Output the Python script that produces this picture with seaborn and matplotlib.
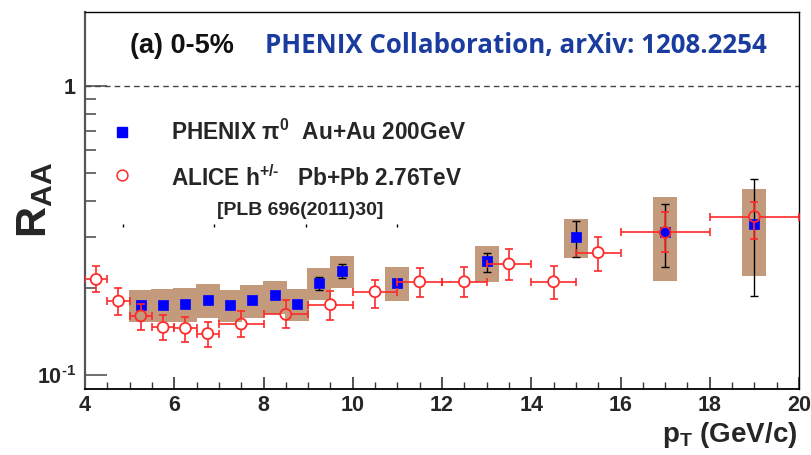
import numpy as np
import matplotlib
matplotlib.use("Agg")
import matplotlib.pyplot as plt
from matplotlib.ticker import MultipleLocator, FixedLocator, FixedFormatter, NullFormatter
import seaborn as sns

# ---------------- data ----------------
# PHENIX pi0, Au+Au 200 GeV, 0-5%
phx_pt = [5.25, 5.75, 6.25, 6.75, 7.25, 7.75, 8.25, 8.75, 9.25, 9.75, 11.0, 13.0, 15.0, 17.0, 19.0]
phx_raa = [0.175, 0.175, 0.176, 0.182, 0.175, 0.181, 0.189, 0.176, 0.208, 0.228, 0.208, 0.247, 0.299, 0.313, 0.333]
# statistical error bars (lower / upper edge)
phx_stat_lo = [0.171, 0.171, 0.172, 0.178, 0.171, 0.177, 0.185, 0.172, 0.197, 0.216, 0.203, 0.227, 0.256, 0.237, 0.188]
phx_stat_hi = [0.179, 0.179, 0.180, 0.186, 0.179, 0.185, 0.193, 0.180, 0.218, 0.242, 0.213, 0.264, 0.341, 0.391, 0.476]
# systematic uncertainty boxes (lower / upper edge)
phx_sys_lo = [0.152, 0.152, 0.152, 0.157, 0.153, 0.157, 0.163, 0.154, 0.182, 0.200, 0.180, 0.209, 0.253, 0.212, 0.219]
phx_sys_hi = [0.197, 0.198, 0.200, 0.206, 0.197, 0.204, 0.212, 0.198, 0.234, 0.257, 0.236, 0.280, 0.346, 0.414, 0.440]
sys_half_width = 0.27

# ALICE charged hadrons, Pb+Pb 2.76 TeV, 0-5%
alice_pt = [4.25, 4.75, 5.25, 5.75, 6.25, 6.75, 7.5, 8.5, 9.5, 10.5, 11.5, 12.5, 13.5, 14.5, 15.5, 17.0, 19.0]
alice_pt_err = [0.25, 0.25, 0.25, 0.25, 0.25, 0.25, 0.5, 0.5, 0.5, 0.5, 0.5, 0.5, 0.5, 0.5, 0.5, 1.0, 1.0]
alice_raa = [0.214, 0.180, 0.160, 0.146, 0.145, 0.139, 0.150, 0.162, 0.175, 0.194, 0.210, 0.210, 0.242, 0.210, 0.265, 0.311, 0.353]
alice_lo = [0.193, 0.161, 0.143, 0.132, 0.130, 0.125, 0.135, 0.145, 0.155, 0.170, 0.186, 0.186, 0.213, 0.183, 0.228, 0.267, 0.296]
alice_hi = [0.238, 0.200, 0.176, 0.161, 0.159, 0.153, 0.166, 0.182, 0.195, 0.213, 0.234, 0.237, 0.273, 0.239, 0.300, 0.367, 0.396]

# stray ticks of the overlaid frame
overlay_ticks = [4.85, 6.9, 8.95, 11.0]

x_major = [4, 6, 8, 10, 12, 14, 16, 18, 20]
y_minor = [0.2, 0.3, 0.4, 0.5, 0.6, 0.7, 0.8, 0.9]

BLUE = "#0000ff"
RED = "#ff2a2a"
BOX = "#c39a7c"
TITLE_BLUE = "#1a3c9e"

# ---------------- style ----------------
sns.set_style("white")
plt.rcParams["font.family"] = ["Liberation Sans", "DejaVu Sans"]
plt.rcParams["mathtext.fontset"] = "custom"
plt.rcParams["mathtext.rm"] = "Liberation Sans:bold"
plt.rcParams["mathtext.it"] = "Liberation Sans:bold"
plt.rcParams["mathtext.bf"] = "Liberation Sans:bold"
plt.rcParams["mathtext.sf"] = "Liberation Sans:bold"

fig = plt.figure(figsize=(8.11, 4.55), dpi=100)
W, H = 811, 455
ax = fig.add_axes([85 / W, 1 - 389 / H, 714 / W, 377 / H])
ax.set_xlim(4, 20)
ax.set_yscale("log")
ax.set_ylim(0.0894, 1.80)

# spines
for side in ["top", "right"]:
    ax.spines[side].set_color("black")
    ax.spines[side].set_linewidth(1.0)
ax.spines["left"].set_color("#555555")
ax.spines["left"].set_linewidth(1.6)
ax.spines["bottom"].set_color("black")
ax.spines["bottom"].set_linewidth(1.3)

# ticks
ax.xaxis.set_major_locator(FixedLocator(x_major))
ax.xaxis.set_minor_locator(MultipleLocator(0.5))
ax.set_xticklabels([str(v) for v in x_major])
ax.yaxis.set_major_locator(FixedLocator([0.1, 1.0]))
ax.yaxis.set_major_formatter(FixedFormatter(["10$^{\u2010 1}$", "1"]))
ax.yaxis.set_minor_locator(FixedLocator(y_minor))
ax.yaxis.set_minor_formatter(NullFormatter())
ax.tick_params(axis="x", which="major", direction="in", length=8.6, width=1.2,
               color="#333333", pad=4.5, labelsize=15.5, bottom=True, top=False)
ax.tick_params(axis="x", which="minor", direction="in", length=5, width=1.0,
               color="#333333", bottom=True, top=False)
ax.tick_params(axis="y", which="major", direction="in", length=16, width=1.2,
               color="#555555", pad=6.5, labelsize=15.5, left=True, right=False)
ax.tick_params(axis="y", which="minor", direction="in", length=8, width=1.2,
               color="#555555", left=True, right=False)
for lab in ax.get_xticklabels() + ax.get_yticklabels():
    lab.set_fontweight("bold")

# unity line
ax.axhline(1.0, color="#444444", lw=1.0, ls=(0, (4, 3)), zorder=1)

# systematic boxes
for x, lo, hi in zip(phx_pt, phx_sys_lo, phx_sys_hi):
    ax.fill_between([x - sys_half_width, x + sys_half_width], lo, hi,
                    color=BOX, lw=0, zorder=1)

# PHENIX statistical errors
phx_raa_a = np.array(phx_raa)
ax.errorbar(phx_pt, phx_raa, yerr=[phx_raa_a - np.array(phx_stat_lo), np.array(phx_stat_hi) - phx_raa_a],
            fmt="none", ecolor="black", elinewidth=1.0, capsize=3, capthick=1.0, zorder=2)
sns.scatterplot(x=phx_pt, y=phx_raa, marker="s", s=48, color=BLUE, edgecolor=BLUE,
                linewidth=0.5, ax=ax, zorder=3, legend=False)

# ALICE error bars: arms stop at the marker edge, capped ends
r_px = 6.0
to_disp = ax.transData.transform
to_data = ax.transData.inverted().transform
for x, y, dx, lo, hi in zip(alice_pt, alice_raa, alice_pt_err, alice_lo, alice_hi):
    cx, cy = to_disp((x, y))
    arms = [((x - dx, y), (-r_px, 0)), ((x + dx, y), (r_px, 0)),
            ((x, lo), (0, -r_px)), ((x, hi), (0, r_px))]
    for (ex, ey), (ox, oy) in arms:
        sx, sy = to_data((cx + ox, cy + oy))
        ax.plot([sx, ex], [sy, ey], color=RED, lw=1.2, solid_capstyle="butt", zorder=4)
        ax.plot([ex], [ey], marker="|" if oy == 0 else "_", ms=5.5, mew=1.2,
                color=RED, zorder=4)
sns.scatterplot(x=alice_pt, y=alice_raa, marker="o", s=62, facecolor="none",
                edgecolor=RED, linewidth=1.3, ax=ax, zorder=5, legend=False)

# stray tick marks
ax.vlines(overlay_ticks, 0.324, 0.334, color="black", lw=1.0, zorder=1)

# legend
ax.plot([0.052], [0.682], marker="s", ms=7, color=BLUE, transform=ax.transAxes, clip_on=False)
ax.plot([0.052], [0.567], marker="o", ms=7.8, mfc="none", mec=RED, mew=1.1,
        transform=ax.transAxes, clip_on=False)
fig.text(171 / W, 1 - 139.5 / H, r"PHENIX $\pi^{0}$  Au+Au 200GeV", fontsize=16.3,
         fontweight="bold", va="baseline", ha="left")
fig.text(171 / W, 1 - 186 / H, "ALICE h$^{+/\u2010}$   Pb+Pb 2.76TeV", fontsize=16.3,
         fontweight="bold", va="baseline", ha="left")
fig.text(217 / W, 1 - 215 / H, "[PLB 696(2011)30]", fontsize=14,
         fontweight="bold", va="baseline", ha="left")

# headers
fig.text(130 / W, 1 - 53 / H, "(a) 0-5%", fontsize=19.5, fontweight="bold",
         va="baseline", ha="left", color="#111111")
fig.text(265 / W, 1 - 53 / H, "PHENIX Collaboration, arXiv: 1208.2254", fontsize=18.6,
         fontweight="bold", family=["Open Sans", "DejaVu Sans"],
         va="baseline", ha="left", color=TITLE_BLUE)

# axis titles
fig.text(35 / W, 1 - 200 / H, r"$\mathbf{R_{AA}}$", fontsize=31, rotation=90,
         ha="center", va="center")
fig.text(797 / W, 1 - 441.5 / H, r"$\mathbf{p_{T}}$ (GeV/c)", fontsize=20,
         fontweight="bold", ha="right", va="baseline")

fig.savefig("out.png", dpi=100)
